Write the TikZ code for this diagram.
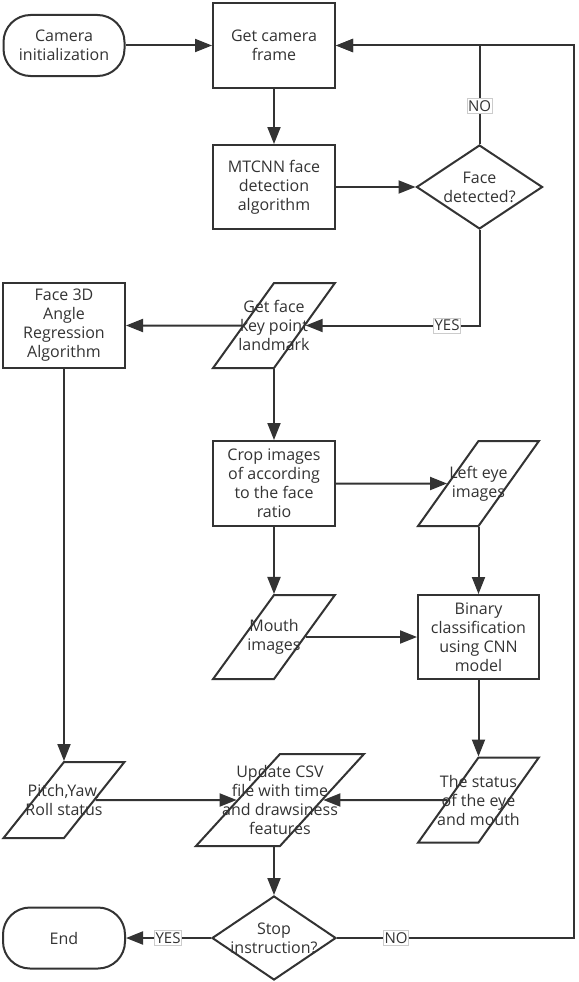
\documentclass[tikz,border=0pt]{standalone}
\usepackage{fontspec}
\setmainfont{Open Sans}
\usetikzlibrary{shapes.geometric,arrows.meta}
\definecolor{ln}{HTML}{333333}
\newcommand\zbx[1]{\makebox[0pt]{#1}}
\begin{document}
\begin{tikzpicture}[x=1pt,y=-1pt,
 every node/.style={text=ln, font=\fontsize{16}{19}\selectfont, align=center},
 box/.style={draw=ln, line width=2pt, rectangle, minimum width=122pt, minimum height=85pt, inner sep=0pt},
 term/.style={draw=ln, line width=2pt, rectangle, rounded corners=27pt, minimum width=121pt, minimum height=61pt, inner sep=0pt},
 para/.style={draw=ln, line width=2pt, trapezium, trapezium left angle=72, trapezium right angle=108, trapezium stretches=true, minimum width=122pt, minimum height=85pt, inner sep=0pt},
 dia/.style={draw=ln, line width=2pt, diamond, minimum width=126pt, minimum height=84pt, inner sep=0pt},
 arr/.style={draw=ln, line width=2pt, -{Triangle[length=17pt,width=13pt]}},
 lbl/.style={fill=white, draw=black!20, line width=0.6pt, inner xsep=1pt, inner ysep=0.5pt, minimum height=15pt, font=\fontsize{15}{16}\selectfont}
]
\useasboundingbox (0,0) rectangle (578,982);

\node[term] (cam) at (64,45.5) {Camera\\initialization};
\node[box] (get) at (274,45.5) {Get camera\\frame};
\node[box, minimum height=84pt] (mtcnn) at (274,187) {MTCNN face\\detection\\algorithm};
\node[dia] (face) at (479.5,187) {\zbx{Face}\\\zbx{detected?}};
\node[para] (getface) at (274,325.5) {\zbx{Get face}\\\zbx{key point}\\\zbx{landmark}};
\node[box] (f3d) at (64,325.5) {Face 3D\\Angle\\Regression\\Algorithm};
\node[box] (crop) at (274,483.5) {Crop images\\of according\\to the face\\ratio};
\node[para, minimum width=121pt] (left) at (478.5,483.5) {\zbx{Left eye}\\\zbx{images}};
\node[para, minimum height=84pt] (mouth) at (274,637) {\zbx{Mouth}\\\zbx{images}};
\node[box, minimum width=121pt, minimum height=84pt] (bin) at (478.5,637) {Binary\\classification\\using CNN\\model};
\node[para, minimum width=121pt, minimum height=76pt] (pitch) at (64,800) {\zbx{Pitch,Yaw,}\\\zbx{Roll status}};
\node[para, minimum width=168pt, minimum height=92pt] (update) at (280,800) {\zbx{Update CSV}\\\zbx{file with time}\\\zbx{and drawsiness}\\\zbx{features}};
\node[para, minimum width=121pt] (status) at (478.5,800) {\zbx{The status}\\\zbx{of the eye}\\\zbx{and mouth}};
\node[dia, minimum width=124pt] (stop) at (274,938) {\zbx{Stop}\\\zbx{instruction?}};
\node[term, minimum width=122pt] (end) at (64,938) {End};

\coordinate (rt) at (574,45.5);

\draw[arr] (cam) -- (get);
\draw[arr] (get) -- (mtcnn);
\draw[arr] (mtcnn) -- (face);
\draw[arr] (face.north) -- (face.north |- get.east) -- (get.east);
\draw[arr] (face.south) -- (face.south |- getface.east) -- (getface.east);
\draw[arr] (getface.west) -- (f3d.east);
\draw[arr] (getface.center |- getface.south) -- (crop.north);
\draw[arr] (crop.east) -- (left.west);
\draw[arr] (crop.south) -- (mouth.center |- mouth.north);
\draw[arr] (left.center |- left.south) -- (bin.north);
\draw[arr] (mouth.east) -- (bin.west |- mouth.east);
\draw[arr] (bin.south) -- (status.center |- status.north);
\draw[arr] (status.west) -- (update.east);
\draw[arr] (f3d.south) -- (pitch.center |- pitch.north);
\draw[arr] (pitch.east) -- (update.west);
\draw[arr] (stop.north |- update.south) -- (stop.north);
\draw[arr] (stop.west) -- (end.east);
\draw[arr] (stop.east) -- (rt |- stop.east) -- (rt) -- (get.east);

\node[lbl] (no1) at (479.5,106) {NO};
\node[lbl] (yes1) at (447,325.5) {YES};
\node[lbl] (yes2) at (168,938) {YES};
\node[lbl] (no2) at (396,938) {NO};
\end{tikzpicture}
\end{document}
